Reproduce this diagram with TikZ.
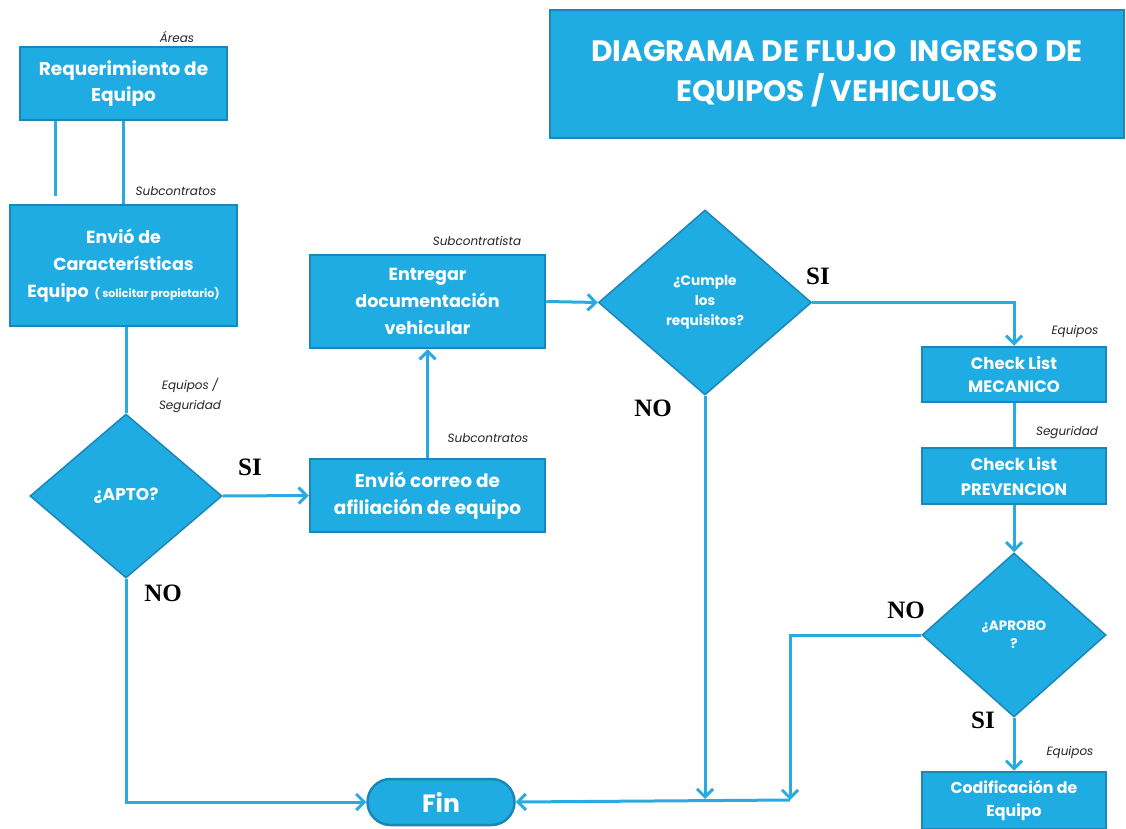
\documentclass[tikz,border=0pt]{standalone}
\usepackage{fontspec}
\setmainfont{Poppins}
\newfontfamily\tnr{Liberation Serif}
\usetikzlibrary{shapes.geometric,arrows.meta}
\definecolor{fillb}{HTML}{1FACE3}
\definecolor{edgeb}{HTML}{1B87B8}
\definecolor{lineb}{HTML}{29ABE2}
\begin{document}
\begin{tikzpicture}[x=1pt,y=-1pt,
  box/.style={rectangle, draw=edgeb, line width=2.5pt, fill=fillb, text=white,
    font=\bfseries\fontsize{17.5}{27}\selectfont, align=center, inner sep=0pt},
  dia/.style={diamond, draw=edgeb, line width=1.5pt, fill=fillb, text=white,
    align=center, inner sep=0pt, aspect=1},
  conn/.style={draw=lineb, line width=3pt},
  arr/.style={conn, -{Straight Barb[length=8pt,width=16pt]}},
  lab/.style={font=\itshape\fontsize{12}{20}\selectfont, text=black!85, align=center},
  yn/.style={font=\tnr\bfseries\fontsize{25}{25}\selectfont}
]
\useasboundingbox[fill=white] (0,0) rectangle (1126,829);

% title
\node[box, minimum width=574pt, minimum height=128pt, font=\bfseries\fontsize{29.5}{40}\selectfont]
  (title) at (837,74) {DIAGRAMA DE FLUJO\ \ INGRESO DE\\EQUIPOS / VEHICULOS};

% boxes
\node[box, minimum width=207pt, minimum height=73pt, font=\bfseries\fontsize{18.5}{26}\selectfont] (b1) at (123.5,83.5) {Requerimiento de\\Equipo};
\node[box, minimum width=227pt, minimum height=121pt] (b2) at (123.5,265.5)
  {Envió de\\Características\\Equipo {\fontsize{11}{27}\selectfont\ ( solicitar propietario)}};
\node[dia, minimum width=192pt, minimum height=164pt, font=\bfseries\fontsize{17}{20}\selectfont]
  (d1) at (126,496) {¿APTO?};
\node[box, minimum width=235pt, minimum height=73pt, font=\bfseries\fontsize{18.5}{27}\selectfont] (b3) at (427.5,495.5) {Envió correo de\\afiliación de equipo};
\node[box, minimum width=235pt, minimum height=93pt] (b4) at (427.5,301.5) {Entregar\\documentación\\vehicular};
\node[dia, minimum width=213pt, minimum height=185pt, font=\bfseries\fontsize{13.7}{20}\selectfont]
  (d2) at (705,302.5) {¿Cumple\\los\\requisitos?};
\node[box, minimum width=184pt, minimum height=55pt, font=\bfseries\fontsize{16.5}{23}\selectfont]
  (b5) at (1014,374.5) {Check List\\MECANICO};
\node[box, minimum width=184pt, minimum height=56pt, font=\bfseries\fontsize{16.5}{25}\selectfont]
  (b6) at (1014,476) {Check List\\PREVENCION};
\node[dia, minimum width=184pt, minimum height=164pt, font=\bfseries\fontsize{13.5}{18}\selectfont]
  (d3) at (1014,635) {¿APROBO\\?};
\node[box, minimum width=184pt, minimum height=57pt, font=\bfseries\fontsize{15.8}{23}\selectfont]
  (b7) at (1014,800.5) {Codificación de\\Equipo};
\node[box, rounded corners=23pt, minimum width=147pt, minimum height=46pt, font=\bfseries\fontsize{25}{25}\selectfont]
  (fin) at (441,802) {Fin};

% free ends
\coordinate (c55) at (55,196);
\coordinate (m2) at (705,799);
\coordinate (m3) at (790,800);

% connectors
\draw[conn] (b1.south -| c55) -- (c55);
\draw[conn] (b1.south) -- (b2.north);
\draw[conn] (d1.north |- b2.south) -- (d1.north);
\draw[arr] (d1.east) -- (b3.west);
\draw[arr] (b3.north) -- (b4.south);
\draw[arr] (b4.east) -- (d2.west);
\draw[arr] (d2.east) -| (b5.north);
\draw[conn] (b5.south) -- (b6.north);
\draw[arr] (b6.south) -- (d3.north);
\draw[arr] (d3.south) -- (b7.north);
\draw[arr] (d3.west) -| (m3);
\draw[arr] (d2.south) -- (m2);
\draw[arr] (m3) -- (fin.east);
\draw[arr] (d1.south) |- (fin.west);

% labels
\node[lab] (l1) at (177,37) {Áreas};
\node[lab] (l2) at (176,191) {Subcontratos};
\node[lab] (l3) at (190,395) {Equipos /\\Seguridad};
\node[lab] (l4) at (488,438) {Subcontratos};
\node[lab] (l5) at (477,241) {Subcontratista};
\node[lab] (l6) at (1075,331) {Equipos};
\node[lab] (l7) at (1067,433) {Seguridad};
\node[lab] (l8) at (1070,752) {Equipos};

\node[yn] (si1) at (250,467) {SI};
\node[yn] (no1) at (163,593) {NO};
\node[yn] (si2) at (818,276) {SI};
\node[yn] (no2) at (653,408) {NO};
\node[yn] (no3) at (906,610) {NO};
\node[yn] (si3) at (983,720) {SI};
\end{tikzpicture}
\end{document}
